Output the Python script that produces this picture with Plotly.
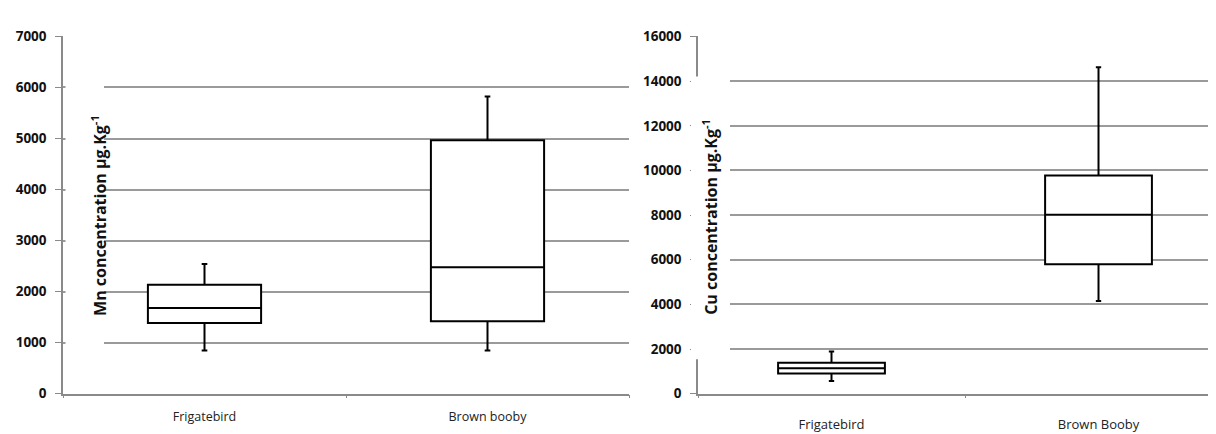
import plotly.graph_objects as go

# Left panel: Mn
mn_categories = ["Frigatebird", "Brown booby"]
mn_min = [845, 845]
mn_q1 = [1384, 1420]
mn_median = [1679, 2479]
mn_q3 = [2136, 4966]
mn_max = [2543, 5823]

# Right panel: Cu
cu_categories = ["Frigatebird", "Brown Booby"]
cu_min = [571, 4148]
cu_q1 = [902, 5796]
cu_median = [1142, 8012]
cu_q3 = [1387, 9772]
cu_max = [1890, 14624]

mn_ticks = [0, 1000, 2000, 3000, 4000, 5000, 6000, 7000]
cu_ticks = [0, 2000, 4000, 6000, 8000, 10000, 12000, 14000, 16000]

W, H = 1216, 434
FONT = "Open Sans"
GRID = "#9a9a9a"
AXIS = "#8a8a8a"

fig = go.Figure()

box_style = dict(
    fillcolor="white",
    line=dict(color="black", width=2),
    whiskerwidth=0.05,
    width=0.4,
    boxpoints=False,
    showlegend=False,
    hoverinfo="skip",
)

fig.add_trace(go.Box(
    x=mn_categories, q1=mn_q1, median=mn_median, q3=mn_q3,
    lowerfence=mn_min, upperfence=mn_max,
    xaxis="x", yaxis="y", **box_style))

fig.add_trace(go.Box(
    x=cu_categories, q1=cu_q1, median=cu_median, q3=cu_q3,
    lowerfence=cu_min, upperfence=cu_max,
    xaxis="x2", yaxis="y2", **box_style))

ydom = [1 - 393 / H, 1 - 20.3 / H]

xaxis_common = dict(
    type="category",
    showgrid=False,
    showline=True,
    linecolor=AXIS,
    linewidth=1.5,
    ticks="outside",
    ticklen=3,
    tickcolor=AXIS,
    tickson="boundaries",
    zeroline=False,
    fixedrange=True,
)

yaxis_common = dict(
    showgrid=True,
    gridcolor=GRID,
    gridwidth=2,
    showline=True,
    linecolor=AXIS,
    linewidth=1.5,
    ticks="outside",
    ticklen=6,
    tickcolor=AXIS,
    ticklabelstandoff=6,
    zeroline=False,
    tickfont=dict(family=FONT, size=13.5, color="#111", weight="bold"),
    fixedrange=True,
)

fig.update_layout(
    width=W, height=H,
    margin=dict(l=0, r=0, t=0, b=0),
    paper_bgcolor="white",
    plot_bgcolor="white",
    showlegend=False,
    xaxis=dict(domain=[55 / W, 621 / W], range=[-0.5, 1.5],
               tickfont=dict(family=FONT, size=12.5, color="#222"),
               ticklabelstandoff=11, anchor="y", **xaxis_common),
    yaxis=dict(domain=ydom, range=[0, 7000], tickvals=mn_ticks,
               ticktext=[str(v) for v in mn_ticks], anchor="x", **yaxis_common),
    xaxis2=dict(domain=[690 / W, 1.0], range=[-0.5, 1.47],
                tickfont=dict(family=FONT, size=13, color="#222"),
                ticklabelstandoff=18, anchor="y2", **xaxis_common),
    yaxis2=dict(domain=ydom, range=[0, 16000], tickvals=cu_ticks,
                ticktext=[str(v) for v in cu_ticks], anchor="x2", **yaxis_common),
)

# White backgrounds of the axis titles (they hide gridlines, as in the original)
fig.add_shape(type="rect", xref="paper", yref="paper",
              x0=57.5 / W, x1=96 / W, y0=1 - 352 / H, y1=1 - 60 / H,
              fillcolor="white", line=dict(width=0), layer="above")
fig.add_shape(type="rect", xref="paper", yref="paper",
              x0=683 / W, x1=722 / W, y0=1 - 357 / H, y1=1 - 62 / H,
              fillcolor="white", line=dict(width=0), layer="above")

fig.add_annotation(xref="paper", yref="paper", x=77 / W, y=1 - 207.5 / H,
                   text="<b>Mn concentration µg.Kg<sup>-1</sup></b>",
                   textangle=-90, showarrow=False,
                   font=dict(family=FONT, size=16, color="#111"))
fig.add_annotation(xref="paper", yref="paper", x=702 / W, y=1 - 208.5 / H,
                   text="<b>Cu concentration µg.Kg<sup>-1</sup></b>",
                   textangle=-90, showarrow=False,
                   font=dict(family=FONT, size=16, color="#111"))

fig.write_html("out.html")
